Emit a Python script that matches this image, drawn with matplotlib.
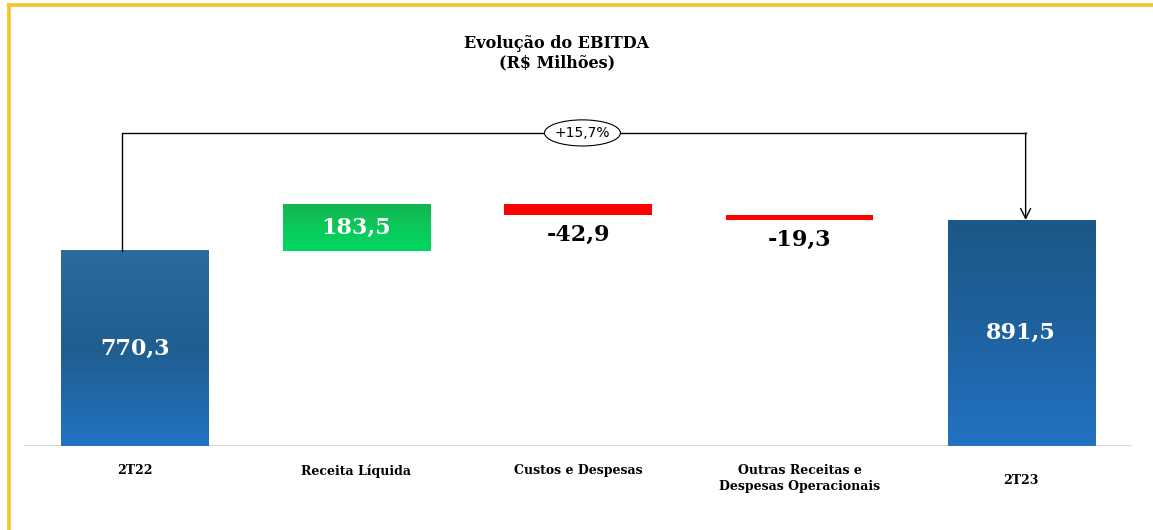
import matplotlib
matplotlib.use("Agg")
import matplotlib.pyplot as plt
import numpy as np
from matplotlib.colors import LinearSegmentedColormap
from matplotlib.patches import Ellipse
from matplotlib.lines import Line2D

# data
categories = ["2T22", "Receita Líquida", "Custos e Despesas",
              "Outras Receitas e\nDespesas Operacionais", "2T23"]
values = [770.3, 183.5, -42.9, -19.3, 891.5]
kinds = ["total", "delta", "delta", "delta", "total"]

title = "Evolução do EBITDA\n(R$ Milhões)"

# compute waterfall bottoms/tops
bottoms, tops = [], []
running = 0.0
for v, k in zip(values, kinds):
    if k == "total":
        bottoms.append(0.0)
        tops.append(v)
        running = v
    else:
        bottoms.append(running)
        tops.append(running + v)
        running += v

def fmt(v):
    return f"{v:.1f}".replace(".", ",")

serif = ["DejaVu Serif"]

fig = plt.figure(figsize=(11.53, 5.30), dpi=100)
fig.patch.set_facecolor("white")
ax = fig.add_axes([24 / 1153, 84 / 530, 1108 / 1153, 1400 * 0.2535 / 530])

x = np.arange(len(categories))
width = 0.664

grad_colors = {
    0: ["#2372C3", "#1F5E8F", "#2B6B9D"],
    1: ["#00D862", "#0BC95A", "#14B552"],
    4: ["#2372C3", "#1E62A0", "#1A5886"],
}
grad = np.linspace(0, 1, 256).reshape(-1, 1)

for i in range(len(categories)):
    lo, hi = sorted([bottoms[i], tops[i]])
    if values[i] >= 0:
        cmap = LinearSegmentedColormap.from_list(f"g{i}", grad_colors[i])
        ax.imshow(grad, cmap=cmap, origin="lower", aspect="auto",
                  extent=(x[i] - width / 2, x[i] + width / 2, lo, hi), zorder=2)
        ax.text(x[i], (lo + hi) / 2, fmt(values[i]), color="white", ha="center",
                va="center", fontsize=16, fontweight="bold", family=serif, zorder=4)
    else:
        ax.bar(x[i], hi - lo, bottom=lo, width=width, color="#FF0000", zorder=2)
        ax.annotate(fmt(values[i]), (x[i], lo), xytext=(0, -20),
                    textcoords="offset pixels", ha="center", va="center",
                    fontsize=16, fontweight="bold", family=serif)

ax.set_xlim(-0.5, 4.5)
ax.set_ylim(0, 1400)
ax.axis("off")
ax.axhline(0, color="#D9D9D9", lw=1.5, zorder=1)

# bracket with growth
ybr = 1235
xl, xr = x[0] - 0.06, x[-1] + 0.02
ax.plot([xl, xl, xr], [tops[0], ybr, ybr], color="black", lw=1.0, zorder=3)
ax.annotate("", xy=(xr, tops[-1]), xytext=(xr, ybr),
            arrowprops=dict(arrowstyle="->", color="black", lw=1.0,
                            mutation_scale=18, shrinkA=0, shrinkB=0))
growth = (values[-1] / values[0] - 1) * 100
ax.add_patch(Ellipse((2.02, ybr), 0.343, 103, facecolor="white",
                     edgecolor="black", lw=0.8, zorder=4))
ax.text(2.02, ybr, f"+{growth:.1f}%".replace(".", ","), ha="center", va="center",
        fontsize=10, family="DejaVu Sans", zorder=5)

# category labels
for i, c in enumerate(categories):
    dy = -10 if i == len(categories) - 1 else 0
    ax.annotate(c, (x[i], 0), xytext=(0, -18 + dy), textcoords="offset pixels",
                ha="center", va="top", fontsize=9, fontweight="bold",
                family=serif, linespacing=1.3)

fig.text(557 / 1153, 1 - 53 / 530, title, ha="center", va="center",
         fontsize=11.5, fontweight="bold", family=serif, linespacing=1.15)

# yellow frame (left and top)
fig.add_artist(Line2D([8.5 / 1153, 8.5 / 1153], [0, 1 - 4.5 / 530], color="#F6C423",
                      lw=2.6, solid_capstyle="butt", transform=fig.transFigure))
fig.add_artist(Line2D([7 / 1153, 1], [1 - 4.5 / 530, 1 - 4.5 / 530], color="#F6C423",
                      lw=2.6, solid_capstyle="butt", transform=fig.transFigure))

fig.savefig("out.png", dpi=100)
